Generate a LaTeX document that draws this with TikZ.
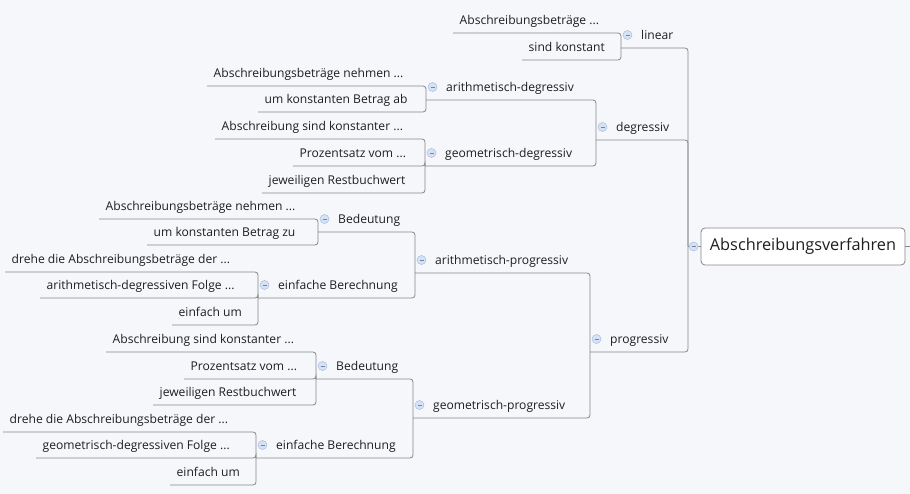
\documentclass[tikz,border=0pt]{standalone}
\usepackage{fontspec}
\setmainfont{Open Sans}
\usepackage{xcolor}
\usepackage{tikz}
\usetikzlibrary{calc}
\usetikzlibrary{positioning}
\definecolor{bg}{RGB}{246,247,251}
\definecolor{wire}{RGB}{135,135,135}
\definecolor{ink}{RGB}{30,30,30}
\definecolor{knobfill}{RGB}{214,226,244}
\definecolor{knobline}{RGB}{165,190,225}
\tikzset{>=latex}
\tikzstyle{topic} = [anchor=south west, inner xsep=6.5pt, inner ysep=5pt, text height=9pt, text depth=3pt, font=\fontsize{12.1}{14}\selectfont, text=ink]
\tikzstyle{branch} = [topic, execute at begin node={\hspace*{13.5pt}}]
\tikzstyle{link} = [draw=wire, line width=0.8pt, rounded corners=3pt]
\tikzstyle{knob} = [circle, draw=knobline, fill=knobfill, line width=0.5pt, inner sep=0pt, minimum size=9pt, path picture={\draw[knobline!70!black, line width=0.6pt] ([xshift=-2pt]path picture bounding box.center) -- ([xshift=2pt]path picture bounding box.center);}]
\tikzstyle{rootbox} = [draw=wire, fill=white, rounded corners=4pt, line width=0.8pt, minimum width=204pt, minimum height=37pt, inner sep=0pt, font=\fontsize{16.3}{19}\selectfont, text=ink]

\begin{document}
\begin{tikzpicture}[x=1pt, y=-1pt]
\fill[bg] (0,0) rectangle (910,494);
\useasboundingbox (0,0) rectangle (910,494);

% root
\node[rootbox] (root) at (803,246.5) {Abschreibungsverfahren};
\coordinate (hub) at (688,246.5);
\coordinate (stub) at (910,246.5);

% main branches
\node[branch] (lin) at (621,48) {linear};
\node[branch] (deg) at (596,140) {degressiv};
\node[branch] (prog) at (590,352) {progressiv};
\node[branch] (ad) at (426,100) {arithmetisch-degressiv};
\node[branch] (gd) at (425,166) {geometrisch-degressiv};
\node[branch] (ap) at (415,273) {arithmetisch-progressiv};
\node[branch] (gp) at (413,418) {geometrisch-progressiv};
\node[branch] (apb) at (318,232) {Bedeutung};
\node[branch] (ape) at (258,298) {einfache Berechnung};
\node[branch] (gpb) at (316,379) {Bedeutung};
\node[branch] (gpe) at (256,458) {einfache Berechnung};

% leaves
\node[topic] (lin1) at (453,33) {Abschreibungsbeträge ...};
\node[topic] (lin2) at (522,60) {sind konstant};
\node[topic] (ad1) at (207,86) {Abschreibungsbeträge nehmen ...};
\node[topic] (ad2) at (258,112) {um konstanten Betrag ab};
\node[topic] (gd1) at (215,139) {Abschreibung sind konstanter ...};
\node[topic] (gd2) at (293,166) {Prozentsatz vom ...};
\node[topic] (gd3) at (262,193) {jeweiligen Restbuchwert};
\node[topic] (apb1) at (99,219) {Abschreibungsbeträge nehmen ...};
\node[topic] (apb2) at (147,245) {um konstanten Betrag zu};
\node[topic] (ape1) at (5,272) {drehe die Abschreibungsbeträge der ...};
\node[topic] (ape2) at (40,298) {arithmetisch-degressiven Folge ...};
\node[topic] (ape3) at (172,325) {einfach um};
\node[topic] (gpb1) at (106,352) {Abschreibung sind konstanter ...};
\node[topic] (gpb2) at (184,379) {Prozentsatz vom ...};
\node[topic] (gpb3) at (153,405) {jeweiligen Restbuchwert};
\node[topic] (gpe1) at (3,432) {drehe die Abschreibungsbeträge der ...};
\node[topic] (gpe2) at (36,458) {geometrisch-degressiven Folge ...};
\node[topic] (gpe3) at (170,485) {einfach um};

% connectors
\draw[link] (hub) -- (root.west);
\draw[link] (root.east) -- (stub);
\draw[link] (lin.south west) -| (hub);
\draw[link] (deg.south west) -| (hub);
\draw[link] (prog.south west) -| (hub);
\draw[link] (lin1.south west) -| (lin.south west);
\draw[link] (lin2.south west) -| (lin.south west);
\draw[link] (ad.south west) -| (deg.south west);
\draw[link] (gd.south west) -| (deg.south west);
\draw[link] (ad1.south west) -| (ad.south west);
\draw[link] (ad2.south west) -| (ad.south west);
\draw[link] (gd1.south west) -| (gd.south west);
\draw[link] (gd2.south west) -| (gd.south west);
\draw[link] (gd3.south west) -| (gd.south west);
\draw[link] (ap.south west) -| (prog.south west);
\draw[link] (gp.south west) -| (prog.south west);
\draw[link] (apb.south west) -| (ap.south west);
\draw[link] (ape.south west) -| (ap.south west);
\draw[link] (apb1.south west) -| (apb.south west);
\draw[link] (apb2.south west) -| (apb.south west);
\draw[link] (ape1.south west) -| (ape.south west);
\draw[link] (ape2.south west) -| (ape.south west);
\draw[link] (ape3.south west) -| (ape.south west);
\draw[link] (gpb.south west) -| (gp.south west);
\draw[link] (gpe.south west) -| (gp.south west);
\draw[link] (gpb1.south west) -| (gpb.south west);
\draw[link] (gpb2.south west) -| (gpb.south west);
\draw[link] (gpb3.south west) -| (gpb.south west);
\draw[link] (gpe1.south west) -| (gpe.south west);
\draw[link] (gpe2.south west) -| (gpe.south west);
\draw[link] (gpe3.south west) -| (gpe.south west);

% collapse knobs
\node[knob] (kroot) at ([xshift=-7pt]root.west) {};
\node[knob] (klin) at ([shift={(6.5pt,13pt)}]lin.south west) {};
\node[knob] (kdeg) at ([shift={(6.5pt,13pt)}]deg.south west) {};
\node[knob] (kprog) at ([shift={(6.5pt,13pt)}]prog.south west) {};
\node[knob] (kad) at ([shift={(6.5pt,13pt)}]ad.south west) {};
\node[knob] (kgd) at ([shift={(6.5pt,13pt)}]gd.south west) {};
\node[knob] (kap) at ([shift={(6.5pt,13pt)}]ap.south west) {};
\node[knob] (kgp) at ([shift={(6.5pt,13pt)}]gp.south west) {};
\node[knob] (kapb) at ([shift={(6.5pt,13pt)}]apb.south west) {};
\node[knob] (kape) at ([shift={(6.5pt,13pt)}]ape.south west) {};
\node[knob] (kgpb) at ([shift={(6.5pt,13pt)}]gpb.south west) {};
\node[knob] (kgpe) at ([shift={(6.5pt,13pt)}]gpe.south west) {};
\end{tikzpicture}
\end{document}
